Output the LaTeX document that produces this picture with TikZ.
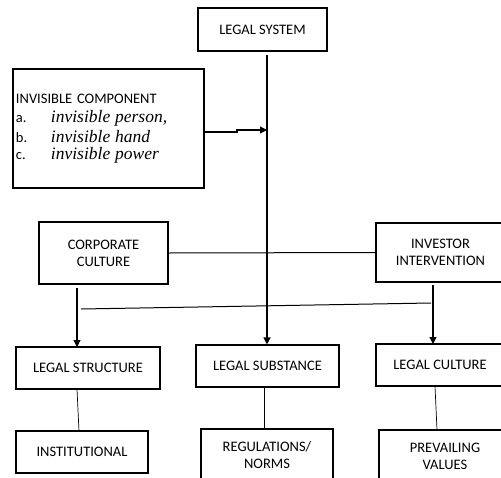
\documentclass[tikz,border=0pt]{standalone}
\usepackage{fontspec}
\setmainfont{Carlito}
\newfontfamily\timesit{Liberation Serif}
\usetikzlibrary{arrows.meta}
\begin{document}
\begin{tikzpicture}[x=1pt,y=-1pt,
  box/.style={draw, line width=1.1pt, inner sep=0pt, align=center,
    font=\fontsize{14.5}{17}\selectfont},
  conn/.style={line width=1pt},
  thin/.style={line width=0.7pt},
  arr/.style={line width=1.2pt, -{Triangle[length=7pt,width=7pt]}}]
\useasboundingbox (0,0) rectangle (501,477);
\clip (0,0) rectangle (501,477);
% boxes
\node[box, minimum width=129pt, minimum height=43pt] (sys) at (262.5,29.5) {LEGAL SYSTEM};
\node[box, minimum width=191pt, minimum height=119pt, text width=185pt, align=left] (inv) at (108.5,128.5)
 {\fontsize{14.5}{19.5}\selectfont INVISIBLE COMPONENT\\
  \makebox[35pt][l]{a.}{\timesit\itshape\fontsize{17.5}{19.5}\selectfont invisible person,}\\
  \makebox[35pt][l]{b.}{\timesit\itshape\fontsize{17.5}{19.5}\selectfont invisible hand}\\
  \makebox[35pt][l]{c.}{\timesit\itshape\fontsize{17.5}{19.5}\selectfont invisible power}};
\node[box, minimum width=129pt, minimum height=62pt] (corp) at (103.5,253) {CORPORATE\\CULTURE};
\node[box, minimum width=129pt, minimum height=59pt] (invest) at (440.5,252.5) {INVESTOR\\INTERVENTION};
\node[box, minimum width=144pt, minimum height=42pt] (struct) at (88,368) {LEGAL STRUCTURE};
\node[box, minimum width=143pt, minimum height=42pt] (subst) at (267.5,366) {LEGAL SUBSTANCE};
\node[box, minimum width=128pt, minimum height=42pt] (lcult) at (440,365) {LEGAL CULTURE};
\node[box, minimum width=132pt, minimum height=42pt] (inst) at (82,452) {INSTITUTIONAL};
\node[box, minimum width=132pt, minimum height=52pt] (reg) at (267,455) {REGULATIONS/\\NORMS};
\node[box, minimum width=132pt, minimum height=52pt] (prev) at (445,456) {PREVAILING\\VALUES};
% coordinates
\coordinate (vtop) at (267,55);
\coordinate (j) at (267,130);
\coordinate (ia) at (204,132);
\coordinate (ib) at (237,132);
\coordinate (ic) at (237,130);
\coordinate (ca) at (77,288);
\coordinate (cb) at (77,347);
\coordinate (da) at (433,285);
\coordinate (db) at (433,344);
\coordinate (sa) at (81,309);
\coordinate (sb) at (431,303);
\coordinate (l1a) at (77,389);
\coordinate (l1b) at (79,431);
\coordinate (l3a) at (435,386);
\coordinate (l3b) at (437,430);
% connectors
\draw[arr] (vtop) -- (vtop |- subst.north);
\draw[arr] (ia) -- (ib) -- (ic) -- (j);
\draw[conn] (corp.east) -- (invest.west);
\draw[arr] (ca) -- (cb);
\draw[arr] (da) -- (db);
\draw[conn] (sa) -- (sb);
\draw[thin] (l1a) -- (l1b);
\draw[thin] (subst.south -| 264,0) -- (reg.north -| 264,0);
\draw[thin] (l3a) -- (l3b);
\end{tikzpicture}
\end{document}
